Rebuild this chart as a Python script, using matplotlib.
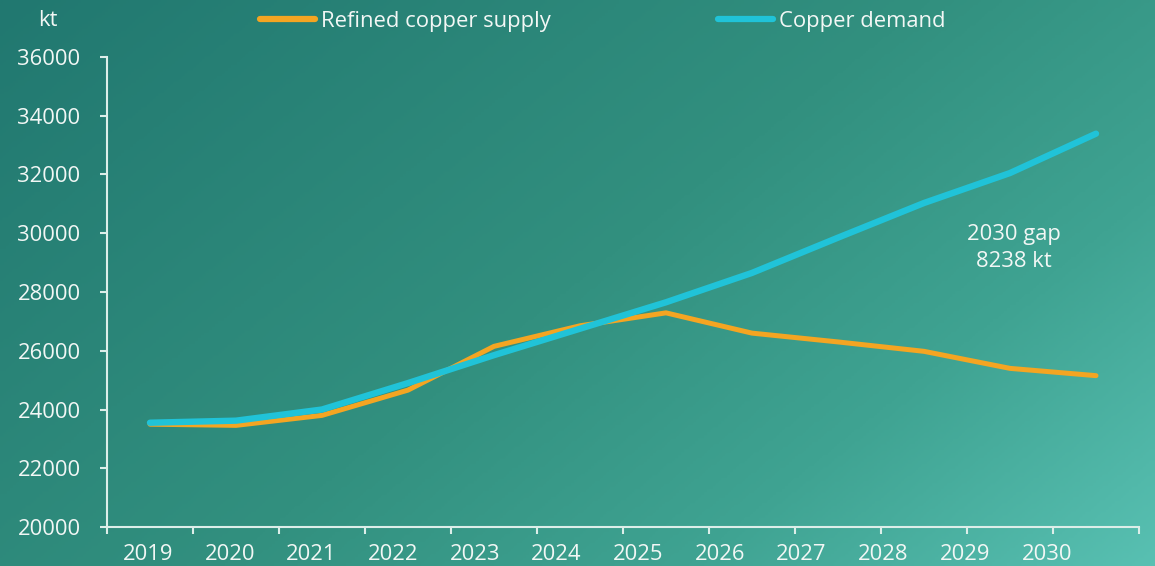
import numpy as np
import matplotlib.pyplot as plt
from matplotlib.colors import LinearSegmentedColormap
from matplotlib.lines import Line2D

plt.rcParams['font.family'] = ['Open Sans', 'DejaVu Sans']

# chart data (kt)
years = ["2019", "2020", "2021", "2022", "2023", "2024",
         "2025", "2026", "2027", "2028", "2029", "2030"]
supply = [23500, 23460, 23800, 24660, 26150, 26850,
          27290, 26600, 26300, 25980, 25400, 25152]
demand = [23550, 23620, 24000, 24900, 25850, 26750,
          27650, 28650, 29850, 31030, 32050, 33390]
y_ticks = [20000, 22000, 24000, 26000, 28000, 30000, 32000, 34000, 36000]

txt = '#f2f7f5'
axis_col = '#dceee9'
orange = '#f4a522'
cyan = '#20c3d8'
fs = 15.8

fig = plt.figure(figsize=(11.55, 5.66), dpi=100)

# diagonal teal gradient background
bg = fig.add_axes([0, 0, 1, 1], zorder=-10)
gx, gy = np.meshgrid(np.linspace(0, 1, 400), np.linspace(0, 1, 200))
grad = (gx * 0.62 + gy * 0.38)
cmap = LinearSegmentedColormap.from_list(
    'teal', [(0, '#217870'), (0.5, '#32907f'), (0.75, '#3fa392'), (1, '#58c0b2')])
bg.imshow(grad, cmap=cmap, aspect='auto', extent=[0, 1, 0, 1], origin='upper')
bg.set_axis_off()

ax = fig.add_axes([107 / 1155, 1 - 527 / 566, (1139 - 107) / 1155, (527 - 57) / 566])
ax.set_facecolor('none')

x = np.arange(len(years))
ax.plot(x, supply, color=orange, lw=3.6, solid_capstyle='round',
        solid_joinstyle='round', zorder=3)
ax.plot(x, demand, color=cyan, lw=4.6, solid_capstyle='round',
        solid_joinstyle='round', zorder=4)

ax.set_xlim(-0.5, len(years) - 0.5)
ax.set_ylim(20000, 36000)

for s in ['top', 'right']:
    ax.spines[s].set_visible(False)
for s in ['left', 'bottom']:
    ax.spines[s].set_color(axis_col)
    ax.spines[s].set_linewidth(1.5)

ax.set_yticks(y_ticks)
ax.set_yticklabels([str(v) for v in y_ticks])
ax.tick_params(axis='y', length=5, width=1.5, color=axis_col, pad=14,
               labelsize=fs, labelcolor=txt)

# tick marks at category boundaries, labels placed as in the source chart
ax.set_xticks(np.arange(-0.5, len(years) + 0.5, 1))
ax.set_xticklabels([])
ax.tick_params(axis='x', which='major', length=5, width=1.5, color=axis_col)
ax.set_xticks(-0.023 + 0.95 * x, minor=True)
ax.set_xticklabels(years, minor=True)
ax.tick_params(axis='x', which='minor', length=0, pad=12,
               labelsize=fs, labelcolor=txt)

fig.text(48 / 1155, 1 - 20 / 566, 'kt', ha='center', va='center',
         fontsize=fs, color=txt)

gap = demand[-1] - supply[-1]
ax.text(10.05, 29500, f'2030 gap\n{gap} kt', ha='center', va='center',
        fontsize=fs, color=txt, linespacing=1.35)

handles = [Line2D([], [], color=orange, lw=4.5, solid_capstyle='round'),
           Line2D([], [], color=cyan, lw=4.5, solid_capstyle='round')]
leg = fig.legend(handles, ['Refined copper supply', 'Copper demand'],
                 loc='center', bbox_to_anchor=(603 / 1155, 1 - 21 / 566),
                 ncol=2, frameon=False, fontsize=fs, handlelength=2.5,
                 handletextpad=0.3, columnspacing=7.6, borderaxespad=0)
for t in leg.get_texts():
    t.set_color(txt)

fig.savefig('out.png', dpi=100)
